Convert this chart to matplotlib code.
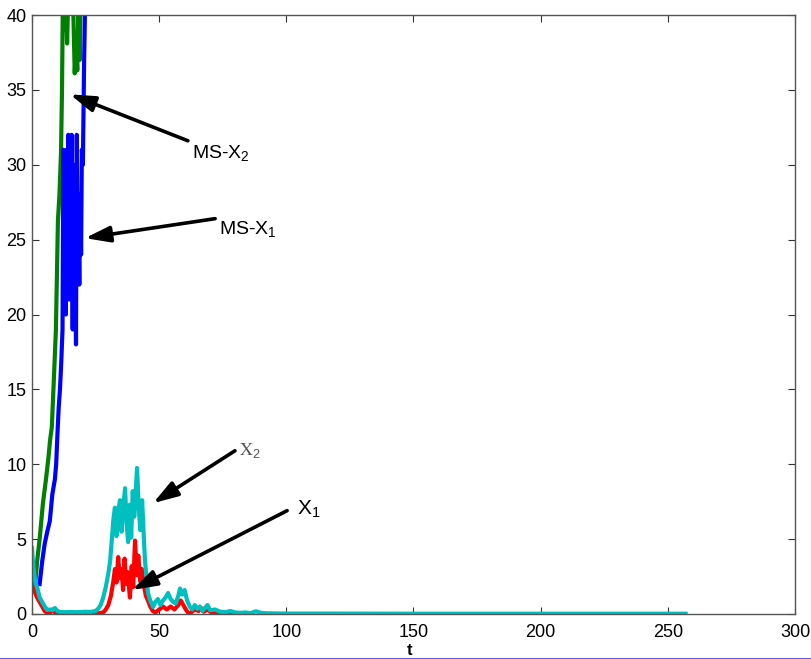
import matplotlib
matplotlib.use('Agg')
from matplotlib import pyplot as plt
from matplotlib.lines import Line2D

# MS-X2 (green)
t_ms2 = [1.2, 2, 3, 4.3, 5.5, 6.5, 7.1, 7.8, 8.7, 9.4,
         10.2, 10.8, 11.4, 11.8, 12.3, 12.8, 13.3, 13.8, 14.5, 15.2,
         16, 16.8, 17.3, 17.8, 18.3, 18.8, 19.5, 21]
ms2 = [1.8, 3.5, 5, 7.4, 9, 10.5, 11.6, 12.5, 16.1, 19,
       26.3, 28, 30.8, 35, 44, 39, 42, 38.1, 43, 46,
       42, 36.1, 38, 36.3, 41, 37, 48, 60]

# MS-X1 (blue)
t_ms1 = [3, 4, 5, 6, 7, 8, 9, 9.5, 10, 10.5,
         11, 11.5, 12, 12.3, 12.6, 13, 13.3, 13.6, 14, 14.3,
         14.6, 15, 15.3, 15.6, 16, 16.3, 16.6, 17, 17.3, 17.6,
         18, 18.3, 18.6, 19, 19.3, 19.6, 20, 20.5, 21, 22]
ms1 = [2, 3.5, 4.7, 5.5, 6.2, 8, 9, 10, 12, 13.8,
       15, 16.8, 19, 31, 22, 29, 20, 31, 25, 32,
       21, 27, 24, 32, 19, 30, 22, 26, 18, 32,
       23, 25, 22, 28, 24, 31, 30, 37, 42, 50]

# X1 (red)
t_x1 = [0, 0.5, 1, 2, 3, 4, 5, 6, 7, 8,
        9, 10, 15, 20, 25, 28, 29, 30, 31, 32,
        32.6, 33.2, 33.9, 34.5, 35.2, 35.8, 36.4, 37, 37.6, 38.5,
        39.2, 39.8, 40.5, 41.2, 41.8, 42.5, 43.2, 44, 44.8, 45.6,
        46.5, 47.5, 48.5, 50, 51.5, 53, 54.5, 56, 57.5, 58.5,
        59.5, 60.5, 61.5, 62.5, 64, 65.5, 66.5, 67.5, 69, 70.5,
        72, 74, 77, 80]
x1 = [2.0, 1.7, 1.5, 1.1, 0.8, 0.5, 0.2, 0.05, 0.05, 0.3,
      0.1, 0.02, 0.01, 0.01, 0.02, 0.1, 0.3, 0.6, 1.2, 2.2,
      3.0, 2.1, 3.8, 2.4, 3.0, 1.6, 3.7, 2.0, 2.8, 1.1,
      3.2, 1.8, 4.9, 2.6, 3.9, 2.2, 3.0, 1.9, 1.2, 0.9,
      0.5, 0.2, 0.1, 0.3, 0.5, 0.3, 0.5, 0.3, 0.6, 0.9,
      0.6, 0.3, 0.05, 0.1, 0.3, 0.2, 0.4, 0.15, 0.3, 0.1,
      0.12, 0.05, 0.03, 0.02]

# X2 (cyan)
t_x2 = [0, 0.5, 1, 1.5, 2, 3, 4, 5, 6, 7,
        8, 9, 10, 11, 13, 15, 17, 19, 21, 23,
        25, 26, 27, 28, 29, 30, 30.7, 31.3, 32, 32.6,
        33.2, 33.8, 34.6, 35.2, 35.8, 36.6, 37.2, 37.8, 38.4, 39,
        39.6, 40.2, 41.3, 42, 42.6, 43.3, 44, 44.4, 45, 45.6,
        46.5, 47.6, 48.5, 49.5, 50.5, 51.5, 52.5, 53.5, 54.5, 55.5,
        56.5, 57.5, 58.2, 59, 60, 61, 62, 63, 64, 65,
        66, 67, 68, 69, 70, 72, 74, 76, 78, 80,
        82, 84, 86, 88, 90, 92, 95, 100, 120, 150,
        200, 257]
x2 = [4.4, 3.2, 2.5, 2.0, 1.8, 1.1, 0.8, 0.5, 0.27, 0.3,
      0.25, 0.4, 0.2, 0.13, 0.12, 0.14, 0.12, 0.13, 0.15, 0.14,
      0.2, 0.35, 0.6, 1.1, 1.8, 2.7, 3.5, 4.8, 6.3, 7.1,
      5.2, 6.8, 7.6, 5.5, 7.0, 8.4, 6.0, 4.8, 7.3, 5.1,
      8.2, 6.5, 9.75, 7.0, 5.6, 7.6, 5.0, 3.6, 2.5, 1.4,
      0.9, 0.47, 0.8, 1.0, 0.6, 0.9, 1.1, 1.4, 1.0, 0.8,
      0.7, 1.2, 1.7, 1.3, 1.6, 0.9, 0.5, 0.3, 0.6, 0.35,
      0.5, 0.2, 0.4, 0.6, 0.25, 0.3, 0.15, 0.12, 0.2, 0.1,
      0.08, 0.1, 0.06, 0.18, 0.08, 0.05, 0.04, 0.03, 0.03, 0.02,
      0.02, 0.02]

plt.rcParams['font.family'] = ['Liberation Sans', 'DejaVu Sans']
plt.rcParams['mathtext.default'] = 'regular'

fig = plt.figure(figsize=(8.12, 6.59), dpi=100)
ax = fig.add_axes([32 / 812, 45 / 659, 763 / 812, 599 / 659])

lw = 3.0
ax.plot(t_ms2, ms2, color='#008000', lw=lw)
ax.plot(t_ms1, ms1, color='#0000ff', lw=lw)
ax.plot(t_x1, x1, color='#ff0000', lw=lw)
ax.plot(t_x2, x2, color='#00bfbf', lw=lw)

ax.set_xlim(0, 300)
ax.set_ylim(0, 40)
ax.set_xticks(range(0, 301, 50))
ax.set_yticks(range(0, 41, 5))
ax.tick_params(direction='in', length=5, width=0.8, labelsize=13, colors='#333333',
               top=True, right=True, labelcolor='black')
ax.tick_params(axis='x', pad=7)
ax.tick_params(axis='y', pad=4)
for s in ax.spines.values():
    s.set_color('#555555')
    s.set_linewidth(1)

arrow = dict(arrowstyle='-|>,head_length=0.75,head_width=0.24', color='black',
             lw=2.6, mutation_scale=20, shrinkA=0, shrinkB=0)
ax.annotate('', xy=(14.9, 34.7), xytext=(61.3, 31.6), arrowprops=arrow)
ax.text(63.0, 30.8, 'MS-X$_2$', fontsize=14, va='center', ha='left')
ax.annotate('', xy=(20.8, 25.1), xytext=(72.0, 26.4), arrowprops=arrow)
ax.text(73.5, 25.7, 'MS-X$_1$', fontsize=14, va='center', ha='left')
ax.annotate('', xy=(47.6, 7.4), xytext=(79.8, 10.9), arrowprops=arrow)
ax.text(81.5, 10.9, r'$\mathrm{X}_2$', fontsize=13, va='center', ha='left',
        color='#555555', math_fontfamily='stix')
ax.annotate('', xy=(39.3, 1.6), xytext=(100.3, 6.9), arrowprops=arrow)
ax.text(104.0, 7.0, 'X$_1$', fontsize=15, va='center', ha='left')

fig.text(410 / 812, 1 - 643 / 659, 't', fontsize=12, fontweight='bold',
         ha='center', va='top')
fig.add_artist(Line2D([0, 1], [0.5 / 659, 0.5 / 659], color='#5a5ae0', lw=1.5,
                      transform=fig.transFigure))

fig.savefig('out.png', dpi=100)
